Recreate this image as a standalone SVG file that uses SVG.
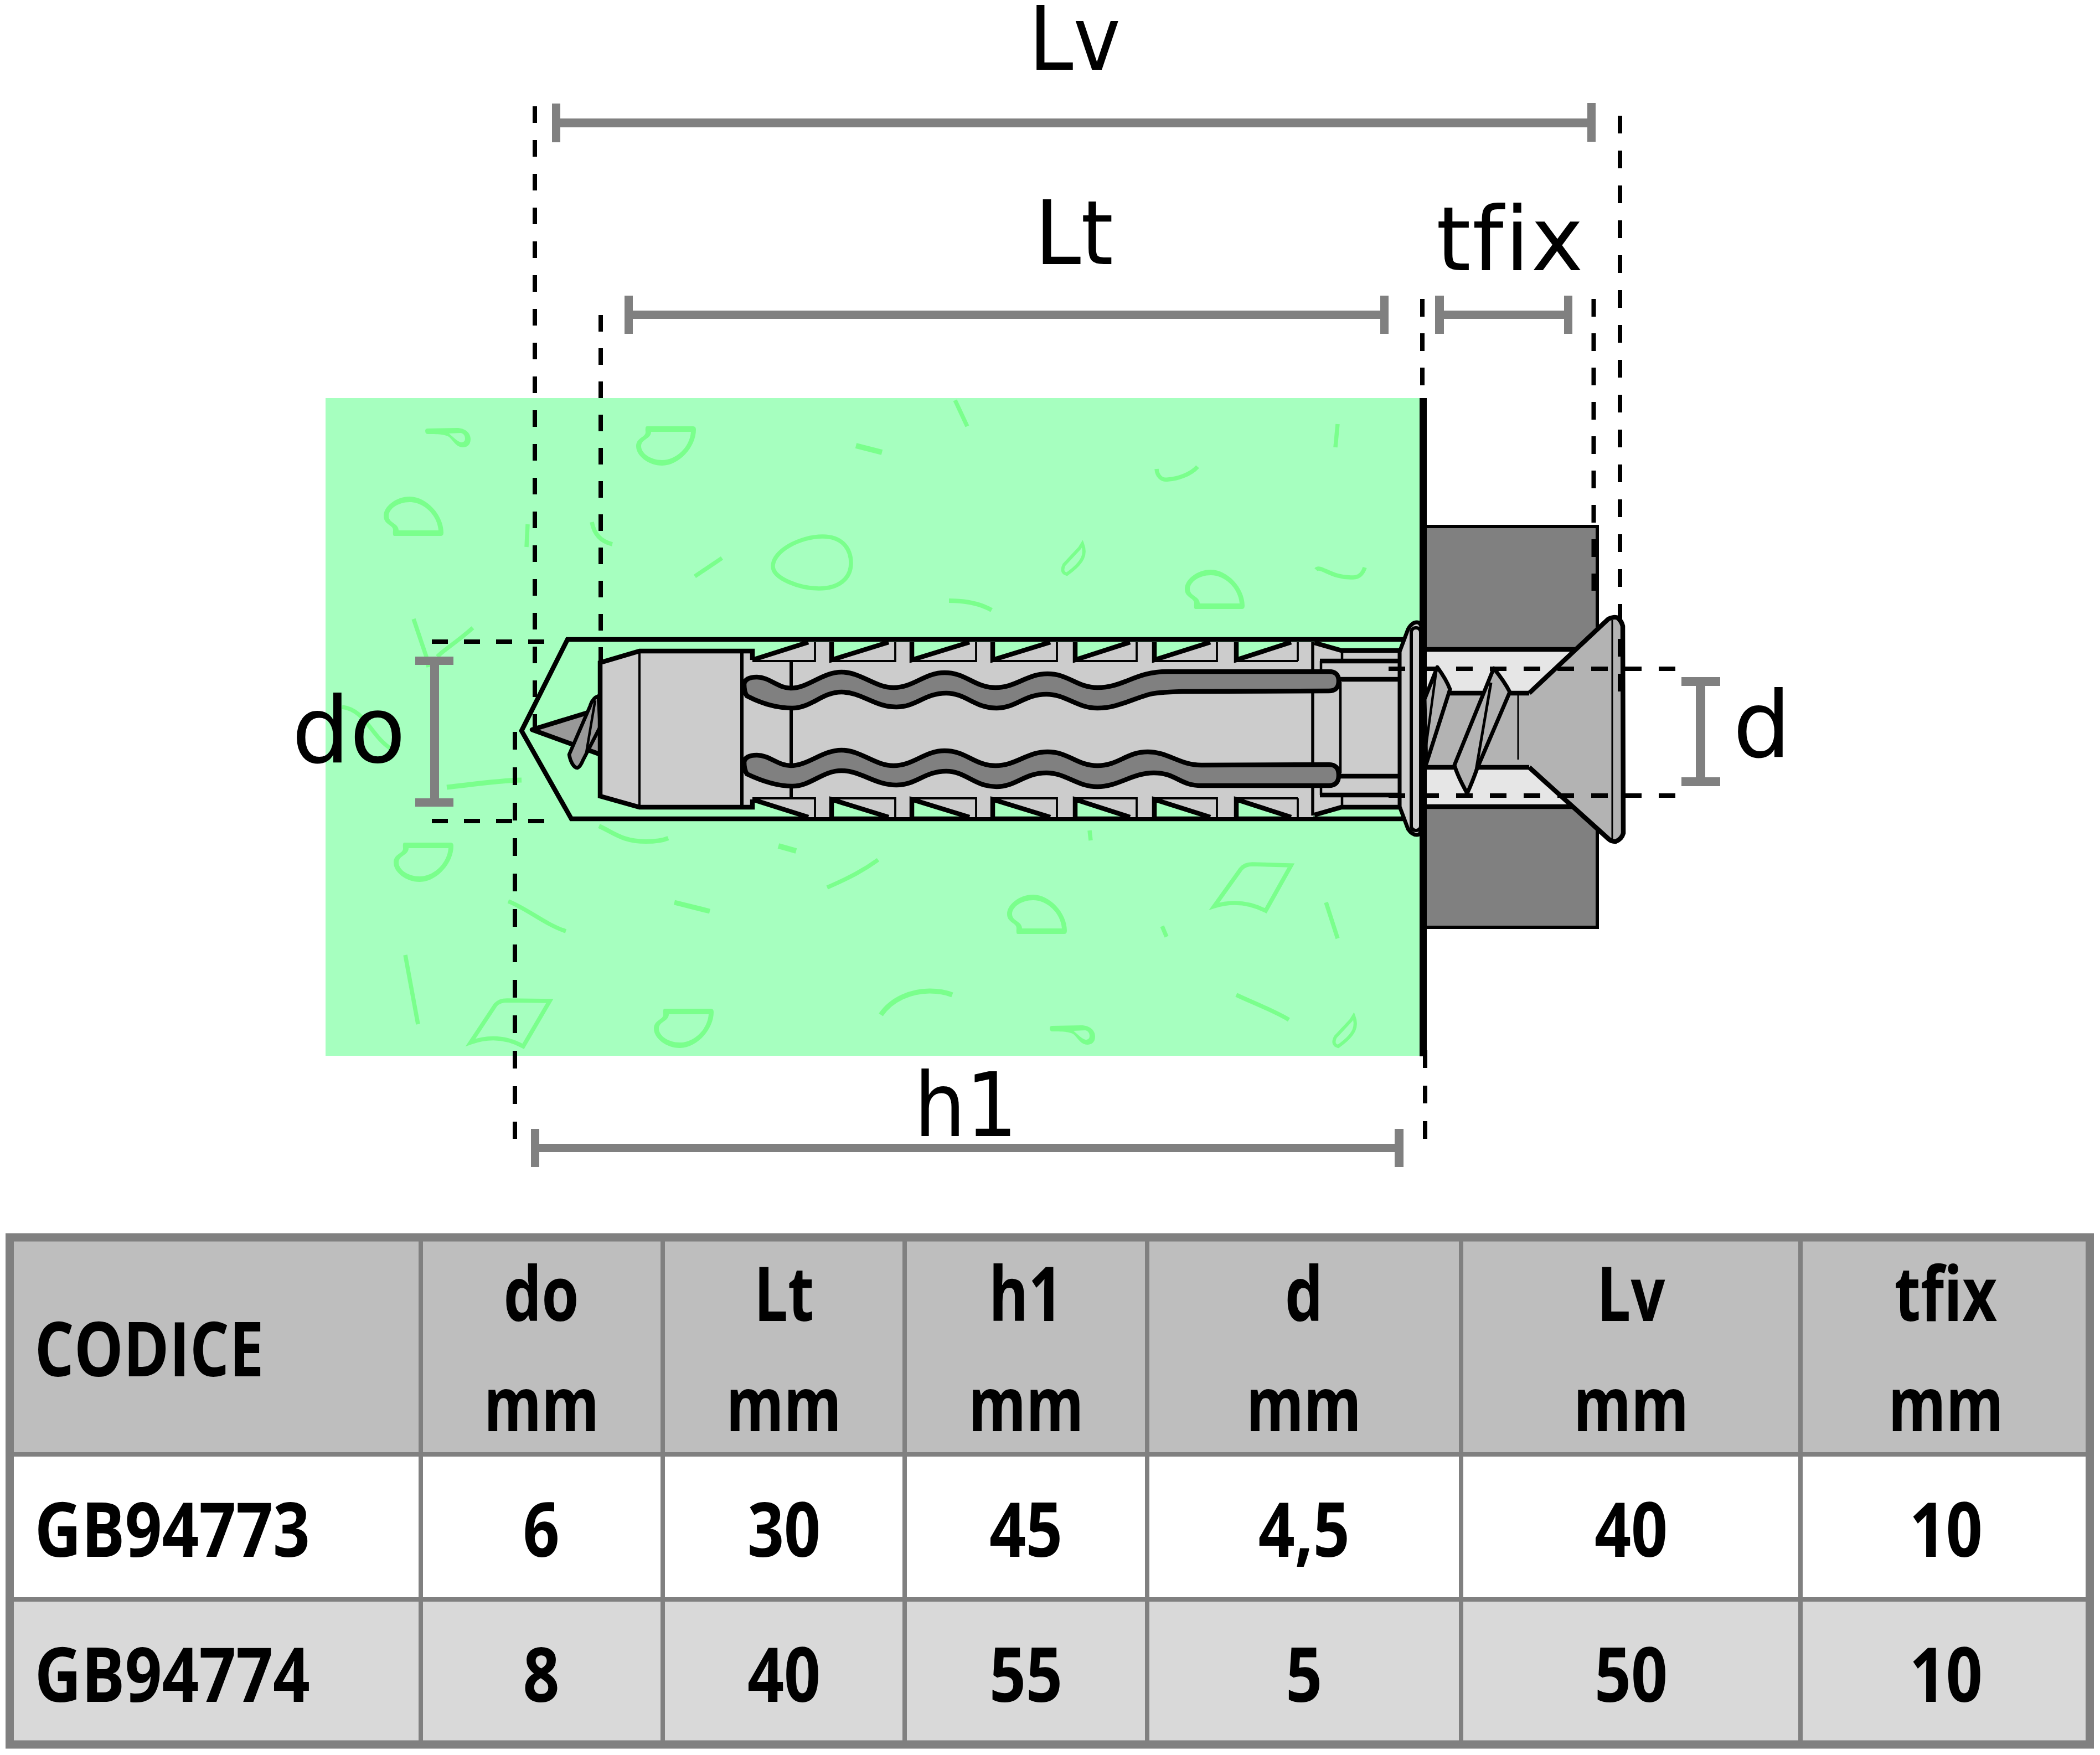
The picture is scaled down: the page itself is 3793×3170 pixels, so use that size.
<svg xmlns="http://www.w3.org/2000/svg" xmlns:xlink="http://www.w3.org/1999/xlink" width="3793" height="3170" viewBox="0 0 3793 3170">
<style>
text{font-variant-ligatures:none}
.n{fill:none;stroke:#7aff8c;stroke-width:7.500}
.nf{fill:#7aff8c;fill-rule:evenodd}
.k{fill:none;stroke:#000;stroke-width:8.500;stroke-linejoin:miter}
.thin{fill:none;stroke:#000;stroke-width:4.500}
.g{fill:#ccc}
.dash{fill:none;stroke:#000;stroke-width:8}
.bar{fill:#808080}
.lbl{font-family:"DejaVu Sans",sans-serif;font-size:160px;fill:#000}
.t{font-family:"Open Sans","Noto Sans",sans-serif;font-weight:700;font-size:136px;fill:#000}
.m{text-anchor:middle}
.b{fill:none;stroke:#808080;stroke-width:8}
</style>
<defs>
<path id="blob" class="nf" d="M712,968 Q709,968 710,958 C711,948 693,948 693,932 C693,915 715,897 740,897 C770,897 801,930 801,962 Q801,968 796,968 Z M720,958 H792 C790,930 765,907 740,907 C718,907 702,920 702,932 C702,945 720,945 720,958 Z"/>
<path id="pin" class="nf" d="M768,778 Q768,774 773,774 L825,773 C840,773 850,782 850,793 C850,805 842,808 836,808 C825,808 820,798 812,790 C806,785 795,784 773,784 Q768,784 768,778 Z M811,783 L832,782 C838,783 840,788 840,792 C840,798 836,799 833,799 C828,798 822,793 811,783 Z"/>
<path id="leaf" class="n" style="stroke-width:6" d="M1955,982 C1962,1000 1958,1015 1927,1037 C1918,1035 1918,1028 1922,1020 L1950,990 Z"/>
<g id="teeth">
<path class="g" d="M1359,1192 L1460,1160 H1502 V1192 Z M1502,1192 L1605,1160 H1647 V1192 Z M1647,1192 L1751,1160 H1793 V1192 Z M1793,1192 L1897,1160 H1942 V1192 Z M1942,1192 L2041,1160 H2085 V1192 Z M2085,1192 L2186,1160 H2233 V1192 Z M2233,1192 L2332,1160 H2372 V1192 Z"/>
<path class="k" d="M1359,1192 L1460,1160 M1502,1160 V1192 L1605,1160 M1647,1160 V1192 L1751,1160 M1793,1160 V1192 L1897,1160 M1942,1160 V1192 L2041,1160 M2085,1160 V1192 L2186,1160 M2233,1160 V1192 L2332,1160"/>
<path class="thin" style="stroke-width:3.800" d="M1472,1160 V1194 H1359 M1617,1160 V1194 H1502 M1763,1160 V1194 H1647 M1909,1160 V1194 H1793 M2053,1160 V1194 H1942 M2198,1160 V1194 H2085 M2344,1160 V1194 H2233"/>
</g>
</defs>

<g id="concrete">
<rect x="588" y="719" width="1978" height="1188" fill="#a6ffbf"/>
<use xlink:href="#pin"/>
<use xlink:href="#blob" transform="matrix(1 0 0 -1 456 1738)"/>
<use xlink:href="#blob"/>
<use xlink:href="#blob" transform="translate(1447,132)"/>
<use xlink:href="#blob" transform="translate(1126,719)"/>
<use xlink:href="#blob" transform="matrix(1 0 0 -1 18 2490)"/>
<use xlink:href="#blob" transform="matrix(1 0 0 -1 488 2790)"/>
<use xlink:href="#pin" transform="translate(1128,1079)"/>
<use xlink:href="#leaf"/>
<use xlink:href="#leaf" transform="translate(490,853)"/>
<path class="n" d="M953,947 L951,988"/>
<path class="n" d="M1069,943 C1073,965 1085,978 1106,983"/>
<path class="n" d="M1304,1008 L1255,1041"/>
<path class="n" d="M1486,969 C1520,969 1537,990 1537,1017 C1537,1045 1515,1063 1479,1063 C1445,1063 1396,1045 1396,1023 C1396,995 1445,969 1486,969 Z"/>
<path class="n" d="M747,1118 L770,1186 L774,1205"/>
<path class="n" d="M854,1134 C825,1160 800,1175 790,1186"/>
<path class="n" style="stroke-width:10" d="M1546,805 L1593,817"/>
<path class="n" d="M1725,723 L1747,770"/>
<path class="n" d="M2416,766 L2412,808"/>
<path class="n" d="M2089,847 C2090,860 2098,868 2110,866 C2125,865 2150,858 2163,843"/>
<path class="n" style="stroke-width:8" d="M1714,1085 C1745,1085 1770,1090 1791,1102"/>
<path class="n" d="M2377,1029 C2385,1020 2405,1045 2444,1043 C2455,1043 2462,1035 2465,1025"/>
<path class="n" d="M618,1277 C660,1282 670,1330 707,1353"/>
<path class="n" style="stroke-width:9" d="M807,1422 C860,1416 900,1410 942,1409"/>
<path class="n" style="stroke-width:8" d="M1082,1492 C1110,1505 1125,1520 1167,1520 C1185,1520 1197,1518 1207,1514"/>
<path class="n" style="stroke-width:10" d="M1406,1528 L1438,1537"/>
<path class="n" d="M1494,1603 C1535,1585 1560,1572 1586,1553"/>
<path class="n" d="M918,1628 C950,1640 985,1670 1022,1682"/>
<path class="n" style="stroke-width:9" d="M1218,1630 L1282,1646"/>
<path class="n" d="M732,1725 L755,1850"/>
<path class="n" d="M916,1807 L993,1808 L945,1890 Q900,1865 850,1883 L895,1815 Q902,1807 916,1807 Z"/>
<path class="n" d="M2262,1561 L2332,1563 L2286,1645 Q2240,1622 2193,1637 L2241,1570 Q2248,1561 2262,1561 Z"/>
<path class="n" d="M1968,1500 L1970,1518"/>
<path class="n" d="M2099,1673 L2107,1692"/>
<path class="n" d="M2395,1630 L2416,1695"/>
<path class="n" style="stroke-width:9" d="M1591,1833 C1610,1805 1645,1790 1679,1790 C1695,1790 1710,1793 1720,1797"/>
<path class="n" d="M2233,1797 C2260,1810 2300,1825 2328,1842"/>
</g>

<g id="plate">
<rect x="2570" y="951" width="315" height="724" fill="#808080" stroke="#000" stroke-width="6"/>
<rect x="2577" y="1173" width="275" height="284" fill="#e6e6e6"/>
<path class="k" d="M2577,1173 H2850 M2577,1457 H2845"/>
</g>

<g id="drill-hole">
<path class="k" d="M2540,1155 H1025 L942,1320 L1032,1479 H2540"/>
</g>

<g id="screw-tip">
<path fill="#999" stroke="#000" stroke-width="8.500" stroke-linejoin="round" d="M961,1318 L1085,1280 V1363 Z"/>
<path fill="#999" stroke="#000" stroke-width="6.500" stroke-linejoin="round" d="M1081,1257 C1072,1260 1068,1268 1066,1275 L1028,1363 C1030,1375 1036,1387 1043,1387 C1048,1385 1051,1378 1053,1373 L1084,1313 Z"/>
<path fill="none" stroke="#000" stroke-width="4.500" d="M1075,1265 L1058,1365"/>
</g>

<g id="anchor">
<rect class="g" x="1340" y="1192" width="1032" height="252"/>
<use xlink:href="#teeth"/>
<use xlink:href="#teeth" transform="matrix(1 0 0 -1 0 2636)"/>
<path class="k" style="fill:#ccc" d="M1359,1192 V1176 H1155 L1084,1197 V1438 L1155,1458 H1359 V1444"/>
<path class="thin" style="stroke-width:4" d="M1155,1176 V1458"/>
<path class="thin" style="stroke-width:6" d="M1340,1176 V1458 M1429,1194 V1442"/>
<path class="g" d="M2344,1194 H2373 V1162 L2423,1175 H2540 V1458 H2423 L2373,1473 V1442 H2344 Z"/>
<path class="k" d="M2374,1161 L2423,1175 H2530 M2374,1472 L2423,1458 H2530"/>
<path class="thin" style="stroke-width:5.500" d="M2371,1160 V1473"/>
<path class="thin" d="M2424,1175 V1194 M2421,1232 V1397 M2424,1436 V1458 M2531,1180 V1455 M2386,1194 V1210 M2386,1420 V1436"/>
<path class="k" d="M2384,1194 H2548 M2420,1227 H2548 M2420,1402 H2548 M2384,1436 H2548"/>
<path class="k" style="fill:#808080" d="M1344,1235 C1346,1226 1355,1223 1367,1223 C1390,1223 1405,1243 1428,1243 C1460,1243 1485,1214 1520,1214 C1555,1214 1580,1242 1614,1242 C1650,1242 1670,1215 1706,1215 C1745,1215 1760,1242 1798,1242 C1835,1242 1855,1217 1892,1217 C1930,1217 1945,1242 1982,1242 C2030,1242 2050,1213 2109,1213 L2400,1213 Q2418,1213 2418,1230 Q2418,1248 2400,1248 L2135,1249 C2105,1250 2085,1251 2073,1255 C2040,1265 2015,1279 1982,1279 C1945,1279 1925,1254 1890,1254 C1850,1254 1835,1279 1800,1279 C1760,1279 1745,1252 1709,1252 C1670,1252 1655,1277 1619,1277 C1580,1277 1555,1250 1520,1250 C1485,1250 1465,1279 1431,1279 C1400,1279 1370,1268 1349,1257 Q1344,1250 1344,1235 Z"/>
<path class="k" style="fill:#808080" d="M1344,1376 C1346,1367 1355,1364 1367,1364 C1390,1364 1405,1383 1428,1383 C1460,1383 1485,1355 1520,1355 C1555,1355 1580,1383 1614,1383 C1650,1383 1670,1356 1706,1356 C1745,1356 1760,1383 1798,1383 C1835,1383 1855,1358 1892,1358 C1930,1358 1945,1383 1982,1383 C2020,1383 2035,1358 2073,1358 C2110,1358 2130,1382 2170,1382 L2400,1381 Q2418,1381 2418,1400 Q2418,1419 2400,1419 L2170,1419 C2130,1419 2125,1396 2084,1396 C2045,1396 2020,1421 1982,1421 C1945,1421 1925,1396 1890,1396 C1850,1396 1835,1421 1800,1421 C1760,1421 1745,1393 1709,1393 C1670,1393 1655,1418 1619,1418 C1580,1418 1555,1392 1520,1392 C1485,1392 1465,1420 1431,1420 C1400,1420 1370,1408 1349,1398 Q1344,1390 1344,1376 Z"/>
<path fill="#ccc" stroke="#000" stroke-width="7" stroke-linejoin="round" d="M2528,1177 L2543,1137 Q2550,1124 2559,1124 Q2567,1124 2568,1137 V1495 Q2567,1508 2559,1508 Q2550,1508 2543,1497 L2528,1457 Z"/>
<rect x="2549" y="1134" width="17" height="366" rx="8" fill="#ccc" stroke="#000" stroke-width="6"/>
</g>

<g id="wall">
<rect x="2564" y="719" width="13" height="1189" fill="#000"/>
</g>

<g id="screw">
<rect x="2577" y="1252" width="190" height="134" fill="#b3b3b3"/>
<path fill="#b3b3b3" d="M2762,1252 L2905,1118 Q2916,1113 2922,1116 Q2929,1122 2931,1131 L2932,1505 Q2929,1516 2918,1520 Q2910,1520 2905,1515 L2762,1386 Z"/>
<path fill="none" stroke="#000" stroke-width="8.500" stroke-linejoin="round" d="M2762,1252 L2905,1118 Q2916,1113 2922,1116 Q2929,1122 2931,1131 L2932,1505 Q2929,1516 2918,1520 Q2910,1520 2905,1515 L2762,1386"/>
<path class="k" d="M2619,1252 H2762 M2577,1386 H2762"/>
<path fill="none" stroke="#000" stroke-width="3" d="M2912,1120 V1515 M2742,1253 V1372"/>
<path fill="#b3b3b3" stroke="#000" stroke-width="7" stroke-linejoin="round" d="M2573,1263 L2596,1205 C2607,1220 2614,1232 2619,1245 L2576,1380 Z"/>
<path fill="none" stroke="#000" stroke-width="4.500" d="M2594,1213 L2574,1360"/>
<path fill="#b3b3b3" stroke="#000" stroke-width="7" stroke-linejoin="round" d="M2698,1207 C2710,1222 2720,1236 2727,1250 L2668,1388 C2662,1405 2656,1420 2650,1433 C2640,1415 2632,1400 2627,1382 Z"/>
<path fill="none" stroke="#000" stroke-width="5" d="M2693,1233 L2665,1397"/>
</g>

<g id="connectors">
<path class="dash" stroke-dasharray="30 31" d="M966,192 V1318"/>
<path class="dash" stroke-dasharray="30 30" d="M1085,569 V1197"/>
<path class="dash" stroke-dasharray="32 32" d="M930,1322 V2057"/>
<path class="dash" stroke-dasharray="32 30" d="M2569,540 V719"/>
<path class="dash" stroke-dasharray="32 32" d="M2574,1897 V2057"/>
<path class="dash" stroke-dasharray="32 30" d="M2878.500,540 V1067"/>
<path class="dash" stroke-dasharray="32 31" d="M2926,209 V1252"/>
<path class="dash" stroke-width="7" stroke-dasharray="29 29" d="M780,1159 H983 M780,1483 H983"/>
<path class="dash" stroke-dasharray="30 31" d="M2508,1208 H3027 M2508,1437 H3027"/>
<path class="bar" d="M997,187 h15 v27 H2867 v-28 h15 v70 h-15 v-26 H1012 v27 h-15 Z"/>
<path class="bar" d="M1128,534 h15 v27 H2493 v-27 h15 v69 h-15 v-27 H1143 v27 h-15 Z"/>
<path class="bar" d="M2592,534 h16 v27 H2825 v-27 h15 v69 h-15 v-27 H2608 v27 h-16 Z"/>
<path class="bar" d="M959,2039 h15 v27 H2519 v-27 h16 v69 h-16 v-27 H974 v27 h-15 Z"/>
<path class="bar" d="M750,1186 h69 v15 h-26 V1442 h26 v15 h-69 v-15 h27 V1201 h-27 Z"/>
<path class="bar" d="M3037,1223 h70 v16 h-27 V1404 h27 v16 h-70 v-16 h26 V1239 h-26 Z"/>
</g>

<g id="labels">
<text class="lbl" x="1858" y="126" textLength="166" lengthAdjust="spacingAndGlyphs">Lv</text>
<text class="lbl" x="1869" y="477" textLength="142" lengthAdjust="spacingAndGlyphs">Lt</text>
<text class="lbl" x="2594" y="488" textLength="266" lengthAdjust="spacing">tfix</text>
<text class="lbl" x="527" y="1377" style="font-size:165px">do</text>
<text class="lbl" x="3130" y="1367" style="font-size:165px">d</text>
<text class="lbl" x="1651" y="2052" textLength="187" lengthAdjust="spacingAndGlyphs">h1</text>
</g>

<g id="table">
<rect x="17" y="2235" width="3757" height="392" fill="#bebebe"/>
<rect x="17" y="2627" width="3757" height="262" fill="#fff"/>
<rect x="17" y="2889" width="3757" height="262" fill="#d9d9d9"/>
<path class="b" d="M760,2235 V3151 M1197,2235 V3151 M1634,2235 V3151 M2072,2235 V3151 M2639,2235 V3151 M3252,2235 V3151 M17,2627 H3774 M17,2889 H3774"/>
<rect x="17.500" y="2235" width="3757" height="916" fill="none" stroke="#808080" stroke-width="15"/>
<g transform="scale(.8,1)">
<text class="t" x="78" y="2486" textLength="518" lengthAdjust="spacingAndGlyphs">CODICE</text>
<text class="t" x="78" y="2812" textLength="622" lengthAdjust="spacingAndGlyphs">GB94773</text>
<text class="t" x="78" y="3074" textLength="622" lengthAdjust="spacingAndGlyphs">GB94774</text>
<text class="t m" x="1222" y="2386">do</text>
<text class="t m" x="1770" y="2386">Lt</text>
<text class="t m" x="2316" y="2386">h1</text>
<text class="t m" x="2944" y="2386">d</text>
<text class="t m" x="3682" y="2386">Lv</text>
<text class="t m" x="4393" y="2386">tfix</text>
</g>
<g transform="scale(.78,1)">
<text class="t m" x="1254" y="2585">mm</text>
<text class="t m" x="1815" y="2585">mm</text>
<text class="t m" x="2376" y="2585">mm</text>
<text class="t m" x="3019" y="2585">mm</text>
<text class="t m" x="3777" y="2585">mm</text>
<text class="t m" x="4506" y="2585">mm</text>
</g>
<g transform="scale(.85,1)">
<text class="t m" x="1150" y="2812">6</text><text class="t m" x="1150" y="3074">8</text>
<text class="t m" x="1666" y="2812">30</text><text class="t m" x="1666" y="3074">40</text>
<text class="t m" x="2180" y="2812">45</text><text class="t m" x="2180" y="3074">55</text>
<text class="t m" x="2771" y="2812">4,5</text><text class="t m" x="2771" y="3074">5</text>
<text class="t m" x="3466" y="2812">40</text><text class="t m" x="3466" y="3074">50</text>
<text class="t m" x="4135" y="2812">10</text><text class="t m" x="4135" y="3074">10</text>
</g>
</g>
</svg>
